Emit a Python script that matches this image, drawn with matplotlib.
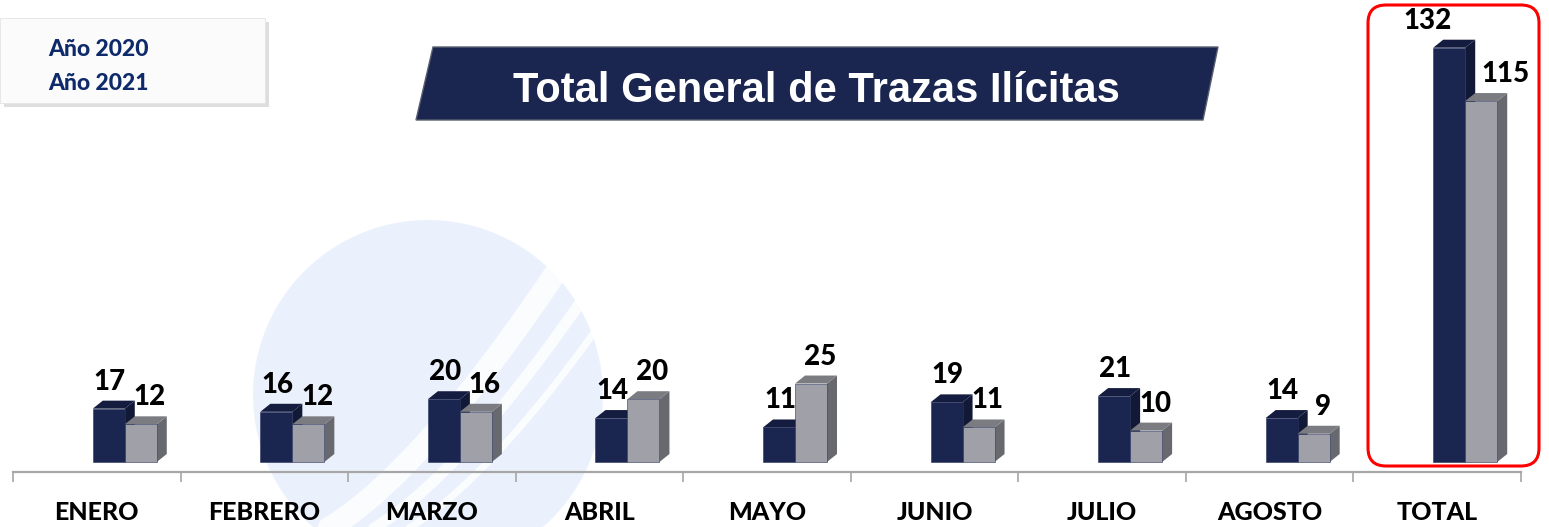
import matplotlib.pyplot as plt
from matplotlib.patches import Polygon, Rectangle, FancyBboxPatch, Circle
import numpy as np

# data
meses = ['ENERO', 'FEBRERO', 'MARZO', 'ABRIL', 'MAYO', 'JUNIO', 'JULIO', 'AGOSTO', 'TOTAL']
anio_2020 = [17, 16, 20, 14, 11, 19, 21, 14, 132]
anio_2021 = [12, 12, 16, 20, 25, 11, 10, 9, 115]
series_labels = ['Año 2020', 'Año 2021']

W, H = 1549, 527
fig = plt.figure(figsize=(W / 100, H / 100), dpi=100)
px = fig.dpi_scale_trans  # inches

def P(x, y):
    # pixel coords (top-left origin) -> inches
    return (x / 100, (H - y) / 100)

# watermark circle (very light blue) with white swoosh
wm = Circle(P(428, 395), 1.75, transform=px, facecolor='#ebf1fc', edgecolor='none', zorder=-5)
fig.patches.append(wm)
t = np.linspace(0, 1, 60)
for off, lw in [(0, 16), (45, 8), (80, 5)]:
    xs = 300 + off + 290 * t ** 0.7
    ys = 540 - 320 * t + 0 * t
    fig.lines.append(plt.Line2D(xs / 100, (H - ys) / 100, transform=px, color='white',
                                lw=lw, alpha=0.85, zorder=-4, solid_capstyle='round'))

# axes
y0_px, top_px = 472, 5
ax = fig.add_axes([13 / W, (H - y0_px) / H, 1508 / W, (y0_px - top_px) / H])
ax.patch.set_visible(False)
scale = 414.3 / 132  # px per unit
ax.set_ylim(-10 / scale, (462 - top_px) / scale)
ax.set_xlim(0, len(meses))
upx = len(meses) / 1508  # x units per px

bw = 32 * upx
dxd = 10 * upx
dyd = 8 / scale

dark_front, dark_side, dark_top = '#1a2550', '#111936', '#141c3f'
gray_front, gray_side, gray_top = '#a0a0a9', '#68696e', '#7b7c82'

def bar3d(x, h, fc, sc, tc):
    ax.add_patch(Polygon([(x + bw, 0), (x + bw + dxd, dyd), (x + bw + dxd, h + dyd), (x + bw, h)],
                         facecolor=sc, edgecolor='none'))
    ax.add_patch(Polygon([(x, h), (x + dxd, h + dyd), (x + bw + dxd, h + dyd), (x + bw, h)],
                         facecolor=tc, edgecolor='none'))
    ax.add_patch(Rectangle((x, 0), bw, h, facecolor=fc, edgecolor='#2a3560', lw=0.4))

lab_font = dict(family='Lato', weight='black', fontsize=20, color='black')
for i, (a, b) in enumerate(zip(anio_2020, anio_2021)):
    c = i + 0.5
    xd = c - 4 * upx
    xg = xd + bw
    bar3d(xd, a, dark_front, dark_side, dark_top)
    bar3d(xg, b, gray_front, gray_side, gray_top)
    if meses[i] == 'TOTAL':
        od, og = -22, 24
    else:
        od, og = 1, 9
    ax.annotate(str(a), (xd + bw / 2, a), xytext=(od * 0.72, 27 * 0.72), textcoords='offset points',
                ha='center', va='center', **lab_font)
    ax.annotate(str(b), (xg + bw / 2, b), xytext=(og * 0.72, 27 * 0.72), textcoords='offset points',
                ha='center', va='center', **lab_font)

for s in ['top', 'right', 'left']:
    ax.spines[s].set_visible(False)
ax.spines['bottom'].set_color('#a6a6a6')
ax.spines['bottom'].set_linewidth(1.6)
ax.set_yticks([])
ax.set_xticks(np.arange(len(meses) + 1))
ax.set_xticklabels([])
ax.tick_params(axis='x', which='major', length=7.5, width=1.2, color='#a6a6a6', direction='out')
ax.set_xticks(np.arange(len(meses)) + 0.5, minor=True)
ax.set_xticklabels(meses, minor=True, family='Lato', weight='black', fontsize=18)
ax.tick_params(axis='x', which='minor', length=0, pad=21)

# red rounded box around TOTAL
x0, y0, x1, y1 = 1368, 5, 1539, 466
box = FancyBboxPatch(P(x0 + 18, y1 - 18), (x1 - x0 - 36) / 100, (y1 - y0 - 36) / 100,
                     boxstyle='round,pad=0.18', transform=px, facecolor='none',
                     edgecolor='#ff0000', lw=2.2, zorder=5)
fig.patches.append(box)

# title banner
banner = Polygon([P(416, 120), P(433, 47), P(1218, 47), P(1203, 120)], closed=True,
                 transform=px, facecolor='#1a2550', edgecolor='#5a6070', lw=1.0, zorder=5)
fig.patches.append(banner)
fig.text(816 / W, (H - 91) / H, 'Total General de Trazas Ilícitas', ha='center', va='center',
         family='Liberation Sans', weight='bold', fontsize=30, color='white', zorder=6)

# legend box
fig.patches.append(Rectangle(P(4, 107), 265 / 100, 85 / 100, transform=px,
                             facecolor='#c8c8c8', edgecolor='none', alpha=0.6, zorder=5))
fig.patches.append(Rectangle(P(0, 103), 265 / 100, 85 / 100, transform=px,
                             facecolor='#fbfbfb', edgecolor='#e4e4e4', lw=0.6, zorder=6))
for k, (lab, yy) in enumerate(zip(series_labels, [49, 84])):
    fig.text(48 / W, (H - yy) / H, lab, ha='left', va='center', family='Lato',
             weight='black', fontsize=16.5, color='#0f2a6a', zorder=7)

fig.savefig('out.png', dpi=100)
